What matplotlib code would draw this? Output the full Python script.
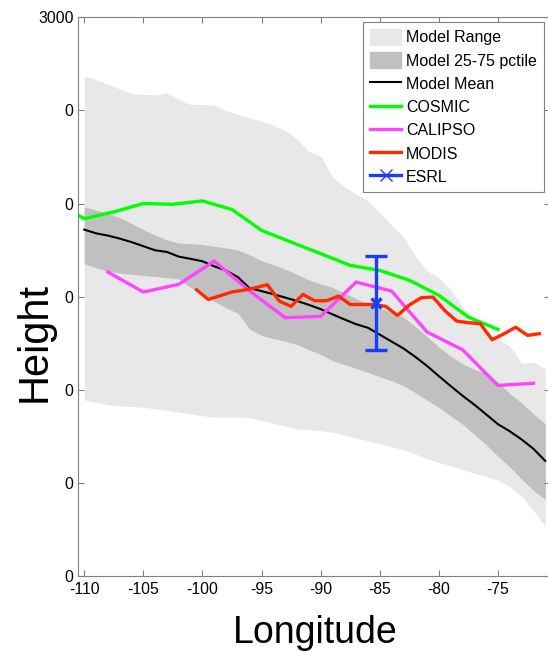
import numpy as np
import matplotlib
matplotlib.use('Agg')
from matplotlib import pyplot as plt
from matplotlib.patches import Patch
from matplotlib.lines import Line2D

plt.rcParams['font.family'] = ['Liberation Sans', 'DejaVu Sans']

# model longitudes (1 degree grid)
model_lon = np.arange(-110, -70)
model_min = [946, 933, 920, 914, 910, 906, 898, 889, 880, 870,
             860, 853, 853, 853, 850, 835, 820, 805, 790, 785,
             780, 772, 757, 741, 725, 710, 694, 679, 655, 630,
             610, 591, 572, 553, 534, 514, 480, 430, 351, 268]
model_max = [2686, 2665, 2641, 2616, 2591, 2585, 2584, 2594, 2560, 2532,
             2532, 2528, 2500, 2478, 2461, 2444, 2420, 2394, 2345, 2280,
             2255, 2143, 2090, 2050, 2015, 1950, 1885, 1820, 1720, 1640,
             1600, 1540, 1445, 1375, 1303, 1270, 1235, 1141, 1148, 1114]
model_p25 = [1677, 1655, 1637, 1627, 1620, 1614, 1608, 1602, 1595, 1550,
             1510, 1475, 1440, 1410, 1325, 1292, 1275, 1260, 1243, 1215,
             1190, 1157, 1135, 1115, 1093, 1070, 1048, 1022, 985, 945,
             905, 860, 815, 760, 705, 643, 585, 520, 460, 410]
model_p75 = [1982, 1965, 1946, 1925, 1893, 1860, 1830, 1805, 1787, 1785,
             1780, 1770, 1762, 1750, 1725, 1692, 1672, 1647, 1620, 1590,
             1568, 1550, 1520, 1490, 1460, 1440, 1415, 1390, 1340, 1285,
             1230, 1180, 1140, 1110, 1090, 1040, 980, 930, 870, 817]
model_mean = [1860, 1840, 1828, 1812, 1793, 1771, 1749, 1740, 1715, 1703,
              1690, 1663, 1640, 1605, 1545, 1530, 1513, 1495, 1477, 1456,
              1433, 1405, 1378, 1352, 1333, 1296, 1259, 1222, 1177, 1128,
              1073, 1020, 968, 920, 868, 815, 777, 733, 683, 618]

cosmic_lon = [-112.5, -110, -107.5, -105, -102.5, -100, -97.5, -95, -92.5,
              -90, -87.5, -85, -82.5, -80, -77.5, -75]
cosmic_h = [2010, 1919, 1955, 2000, 1996, 2014, 1968, 1856, 1793,
            1731, 1668, 1641, 1588, 1507, 1390, 1324]

calipso_lon = [-108, -105, -102, -99, -96, -93, -90, -87, -84, -81, -78, -75, -72]
calipso_h = [1632, 1525, 1566, 1691, 1530, 1387, 1394, 1578, 1530, 1310, 1215, 1023, 1035]

modis_lon = np.arange(-100.5, -71, 1.0)
modis_h = [1537, 1485, 1505, 1525, 1535, 1548, 1564, 1476, 1448, 1512,
           1478, 1478, 1503, 1458, 1458, 1458, 1448, 1399, 1455, 1494,
           1498, 1425, 1369, 1360, 1355, 1269, 1300, 1336, 1292, 1301]

esrl_lon = -85.3
esrl_h = 1466
esrl_err = 250

yticks = [0, 500, 1000, 1500, 2000, 2500, 3000]
ytick_labels = ['0', '0', '0', '0', '0', '0', '3000']
xticks = [-110, -105, -100, -95, -90, -85, -80, -75]

fig = plt.figure(figsize=(5.48, 6.51), dpi=100)
ax = fig.add_axes([77.7 / 548, 75 / 651, (550 - 77.7) / 548, (576 - 17.3) / 651])

c_range = '#e8e8e8'
c_iqr = '#c0c0c0'
c_blue = '#1a3cff'

ax.fill_between(model_lon, model_min, model_max, color=c_range, lw=0)
ax.fill_between(model_lon, model_p25, model_p75, color=c_iqr, lw=0)
ax.plot(model_lon, model_mean, color='black', lw=1.5)
ax.plot(cosmic_lon, cosmic_h, color='#00ff00', lw=2.4)
ax.plot(calipso_lon, calipso_h, color='#ff44ff', lw=2.4)
ax.plot(modis_lon, modis_h, color='#ff2a00', lw=2.4)
ax.errorbar([esrl_lon], [esrl_h], yerr=[esrl_err], color=c_blue, lw=2.4,
            capsize=8, capthick=2.4, marker='x', ms=7, mew=2.4)

ax.set_xlim(-110.55, -70.6)
ax.set_ylim(0, 3000)
ax.set_xticks(xticks)
ax.set_xticklabels([str(t) for t in xticks])
ax.set_yticks(yticks)
ax.set_yticklabels(ytick_labels)
ax.tick_params(direction='in', top=True, right=True, length=4, width=0.8,
               color='#808080', labelsize=11.3)
ax.tick_params(axis='x', pad=4)
ax.tick_params(axis='y', pad=3)
for s in ax.spines.values():
    s.set_color('#808080')
    s.set_linewidth(0.8)

handles = [
    Patch(facecolor=c_range, edgecolor=c_range, label='Model Range'),
    Patch(facecolor=c_iqr, edgecolor=c_iqr, label='Model 25-75 pctile'),
    Line2D([], [], color='black', lw=1.5, label='Model Mean'),
    Line2D([], [], color='#00ff00', lw=2.4, label='COSMIC'),
    Line2D([], [], color='#ff44ff', lw=2.4, label='CALIPSO'),
    Line2D([], [], color='#ff2a00', lw=2.4, label='MODIS'),
    Line2D([], [], color=c_blue, lw=2.4, marker='x', ms=8, mew=1, label='ESRL'),
]
leg = fig.legend(handles=handles, loc='upper right',
                 bbox_to_anchor=(544 / 548, 1 - 22 / 651), fontsize=11.5,
                 frameon=True, fancybox=False, framealpha=1, edgecolor='#808080',
                 borderpad=0.45, labelspacing=0.45, handlelength=1.95,
                 handleheight=1.1, handletextpad=0.3, borderaxespad=0)
leg.get_frame().set_linewidth(0.8)

fig.text(35 / 548, 1 - 342 / 651, 'Height', rotation=90, ha='center', va='center',
         fontsize=30)
fig.text(315 / 548, 8 / 651, 'Longitude', ha='center', va='baseline', fontsize=27)

fig.savefig('out.png', dpi=100)
